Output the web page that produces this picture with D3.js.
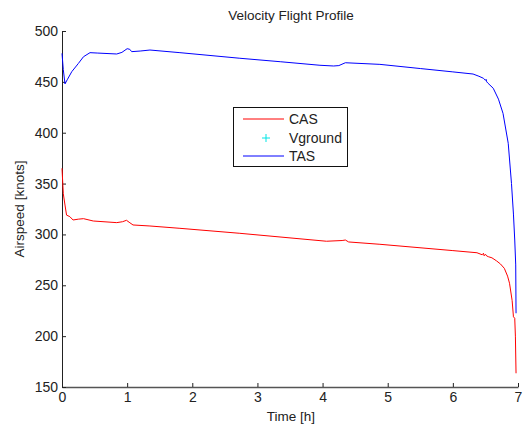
<!DOCTYPE html>
<html><head><meta charset="utf-8">
<script src="https://cdn.jsdelivr.net/npm/d3@7"></script>
<style>
html,body{margin:0;padding:0;background:#fff;}
text{font-family:"Liberation Sans",Arial,Helvetica,sans-serif;fill:#222;}
</style></head>
<body><svg id="c" width="523" height="428"></svg>
<script>
const tasTime = [0, 0.02, 0.046, 0.08, 0.15, 0.25, 0.33, 0.43, 0.55, 0.84, 0.92, 1.0, 1.04, 1.07, 1.2, 1.35, 1.81, 2.73, 3.35, 3.96, 4.17, 4.25, 4.35, 4.88, 5.5, 6.0, 6.31, 6.40, 6.47, 6.5, 6.51, 6.52, 6.54, 6.62, 6.7, 6.77, 6.85, 6.90, 6.93, 6.95, 6.965, 6.97];
const tasValues = [478, 462, 448, 452, 460, 468, 474.7, 478.7, 478.3, 477.4, 479, 482.6, 482, 479.7, 480.3, 481.3, 478.7, 473.2, 469.8, 466.3, 465.6, 466, 468.8, 467.2, 463.1, 459.8, 457.7, 455.5, 453.5, 451.5, 452.5, 450, 448.6, 443.7, 433, 419, 389.6, 350, 320, 294.5, 270, 222.5];
const casTime = [0, 0.02, 0.046, 0.07, 0.12, 0.17, 0.25, 0.33, 0.48, 0.84, 0.93, 0.99, 1.03, 1.09, 1.35, 1.81, 2.73, 4.06, 4.3, 4.35, 4.4, 4.88, 6.0, 6.37, 6.45, 6.47, 6.48, 6.5, 6.52, 6.55, 6.6, 6.67, 6.73, 6.79, 6.84, 6.87, 6.91, 6.93, 6.95, 6.96, 6.97];
const casValues = [365, 340, 328.9, 319, 317.5, 314.2, 315, 315.5, 313.2, 311.6, 312.5, 313.9, 312, 309.3, 308.3, 306, 301.1, 293.3, 294, 294.5, 292.6, 290.3, 284.1, 282, 280, 281.5, 279, 280.5, 278.8, 278, 277, 274, 271, 266.7, 259, 252, 235, 219, 217.6, 200, 163.5];
const vgroundTime = [];
const vgroundValues = [];
const xTicks = [0, 1, 2, 3, 4, 5, 6, 7];
const yTicks = [150, 200, 250, 300, 350, 400, 450, 500];
const legendLabels = ["CAS", "Vground", "TAS"];

const svg = d3.select("#c");
const x = d3.scaleLinear().domain([0, 7]).range([62, 518]);
const y = d3.scaleLinear().domain([150, 500]).range([387, 31]);

const xAxis = d3.axisBottom(x).tickValues(xTicks).tickSizeInner(-4).tickSizeOuter(0).tickPadding(5).tickFormat(d3.format("d"));
const yAxis = d3.axisLeft(y).tickValues(yTicks).tickSizeInner(-4).tickSizeOuter(0).tickPadding(4).tickFormat(d3.format("d"));
const gx = svg.append("g").attr("transform", "translate(0,387)").call(xAxis);
const gy = svg.append("g").attr("transform", "translate(62,0)").call(yAxis);
[gx, gy].forEach(g => {
  g.selectAll("path.domain").attr("stroke", "#222").attr("stroke-width", 1);
  g.selectAll(".tick line").attr("stroke", "#222");
  g.selectAll(".tick text").style("font-size", "14px").style("font-family", '"Liberation Sans",Arial,sans-serif').attr("fill", "#222");
});
gx.select("path.domain").attr("stroke", "#555").attr("stroke-width", 1.6);

const line = d3.line().x(d => x(d[0])).y(d => y(d[1]));
svg.append("path").datum(casTime.map((t, i) => [t, casValues[i]]))
  .attr("d", line).attr("fill", "none").attr("stroke", "#ff0000").attr("stroke-width", 1);
svg.append("g").selectAll("text").data(vgroundTime.map((t, i) => [t, vgroundValues[i]])).enter()
  .append("text").attr("x", d => x(d[0])).attr("y", d => y(d[1])).text("+");
svg.append("path").datum(tasTime.map((t, i) => [t, tasValues[i]]))
  .attr("d", line).attr("fill", "none").attr("stroke", "#0000ff").attr("stroke-width", 1);

svg.append("text").attr("x", 291).attr("y", 20).attr("text-anchor", "middle").style("font-size", "13.5px").text("Velocity Flight Profile");
svg.append("text").attr("x", 291).attr("y", 421).attr("text-anchor", "middle").style("font-size", "13.5px").text("Time [h]");
svg.append("text").attr("transform", "translate(24,209) rotate(-90)").attr("text-anchor", "middle").style("font-size", "13.5px").text("Airspeed [knots]");

const lg = svg.append("g");
lg.append("rect").attr("x", 233.5).attr("y", 107.5).attr("width", 114).attr("height", 59).attr("fill", "#fff").attr("stroke", "#111").attr("stroke-width", 1);
const ly = [119, 138, 156];
const lcol = ["#ff0000", "#00e5e5", "#0000ff"];
legendLabels.forEach((lab, i) => {
  if (i === 1) {
    lg.append("line").attr("x1", 262).attr("x2", 270).attr("y1", ly[i]).attr("y2", ly[i]).attr("stroke", lcol[i]);
    lg.append("line").attr("x1", 266).attr("x2", 266).attr("y1", ly[i] - 4).attr("y2", ly[i] + 4).attr("stroke", lcol[i]);
  } else {
    lg.append("line").attr("x1", 243).attr("x2", 284).attr("y1", ly[i]).attr("y2", ly[i]).attr("stroke", lcol[i]).attr("stroke-width", 1);
  }
  lg.append("text").attr("x", 289).attr("y", ly[i] + 5).style("font-size", "14px").text(lab);
});
</script></body></html>
